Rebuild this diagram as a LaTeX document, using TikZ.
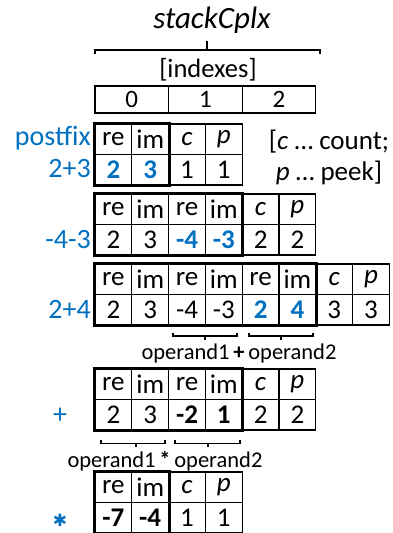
\documentclass[tikz,border=0pt]{standalone}
\usepackage{fontspec}
\setmainfont{Carlito}
\newfontfamily\symfont{DejaVu Sans}
\definecolor{pblue}{RGB}{0,112,192}
\tikzset{
  cell/.style={draw, line width=1.2pt, minimum width=36.8pt, minimum height=30.5pt,
    inner sep=0pt, font=\fontsize{27}{29}\selectfont},
  idxcell/.style={cell, minimum width=73.6pt, minimum height=27pt,
    font=\fontsize{25}{27}\selectfont},
  frame/.style={draw, line width=3pt},
  lbl/.style={text=pblue, font=\fontsize{28}{30}\selectfont, anchor=east, inner sep=0pt},
  bracket/.style={line width=1.2pt},
  optext/.style={font=\fontsize{22.5}{25}\selectfont, inner sep=0pt}
}
\newcommand\hl[1]{\textbf{\color{pblue}#1}}
% one stack snapshot: name, top y, header cells, value cells, occupied cells
\newcommand\stackrow[5]{%
  \foreach \t [count=\i] in {#3}
    \node[cell] (#1h\i) at ({95+(\i-0.5)*36.8}, {#2+15.25}) {\t};
  \foreach \t [count=\i] in {#4}
    \node[cell] (#1v\i) at ({95+(\i-0.5)*36.8}, {#2+45.75}) {\t};
  \draw[frame] (#1h1.north west) rectangle (#1v#5.south east);
}
\begin{document}
\begin{tikzpicture}[x=1pt, y=-1pt]
\useasboundingbox (0,0) rectangle (393,533);

% title and bracket
\node[font=\fontsize{31}{34}\selectfont\itshape] (title) at (212,20) {stackCplx};
\draw[bracket] (95,54) -- (95,50) -- (320,50) -- (320,54);
\draw[line width=2pt] (207,50) -- (207,41);
\node[font=\fontsize{26.5}{29}\selectfont] (indexes) at (208,70) {[indexes]};

% index row
\foreach \t [count=\i] in {0,1,2}
  \node[idxcell] (ix\i) at ({95+(\i-0.5)*73.6}, 99.5) {\t};

% stack snapshots
\stackrow{a}{124}{re,im,\textit{c},\textit{p}}{\hl{2},\hl{3},1,1}{2}
\stackrow{b}{194}{re,im,re,im,\textit{c},\textit{p}}{2,3,\hl{-4},\hl{-3},2,2}{4}
\stackrow{c}{264}{re,im,re,im,re,im,\textit{c},\textit{p}}{2,3,-4,-3,\hl{2},\hl{4},3,3}{6}
\stackrow{d}{369}{re,im,re,im,\textit{c},\textit{p}}{2,3,\textbf{-2},\textbf{1},2,2}{4}
\stackrow{e}{472}{re,im,\textit{c},\textit{p}}{\textbf{-7},\textbf{-4},1,1}{2}

% postfix labels
\node[lbl] (pf) at (91,138) {postfix};
\node[lbl] (t1) at (91,169) {2+3};
\node[lbl] (t2) at (91,239.5) {-4-3};
\node[lbl] (t3) at (91,309.5) {2+4};
\node[lbl, anchor=center] (t4) at (60,416) {+};
\node[lbl, anchor=center, font=\fontsize{17}{18}\symfont] (t5) at (60,520) {✱};

% legend
\node[font=\fontsize{27}{31}\selectfont, align=center] (legend) at (329,157)
  {[\textit{c} … count;\\\textit{p} … peek]};

% operand brackets below the third snapshot
\draw[bracket] (173,332.5) -- (173,336) -- (237,336) -- (237,332.5);
\draw[bracket] (205,336) -- (205,339.5);
\draw[bracket] (249,332.5) -- (249,336) -- (313,336) -- (313,332.5);
\draw[bracket] (281,336) -- (281,339.5);
\node[optext] (add) at (239,353) {operand1\,\textbf{+}\,operand2};

% operand brackets below the fourth snapshot
\draw[bracket] (101,440) -- (101,443.5) -- (165,443.5) -- (165,440);
\draw[bracket] (136,443.5) -- (136,447);
\draw[bracket] (175,440) -- (175,443.5) -- (240,443.5) -- (240,440);
\draw[bracket] (208,443.5) -- (208,447);
\node[optext] (mul) at (165,461) {operand1\,\textbf{*}\,operand2};
\end{tikzpicture}
\end{document}
